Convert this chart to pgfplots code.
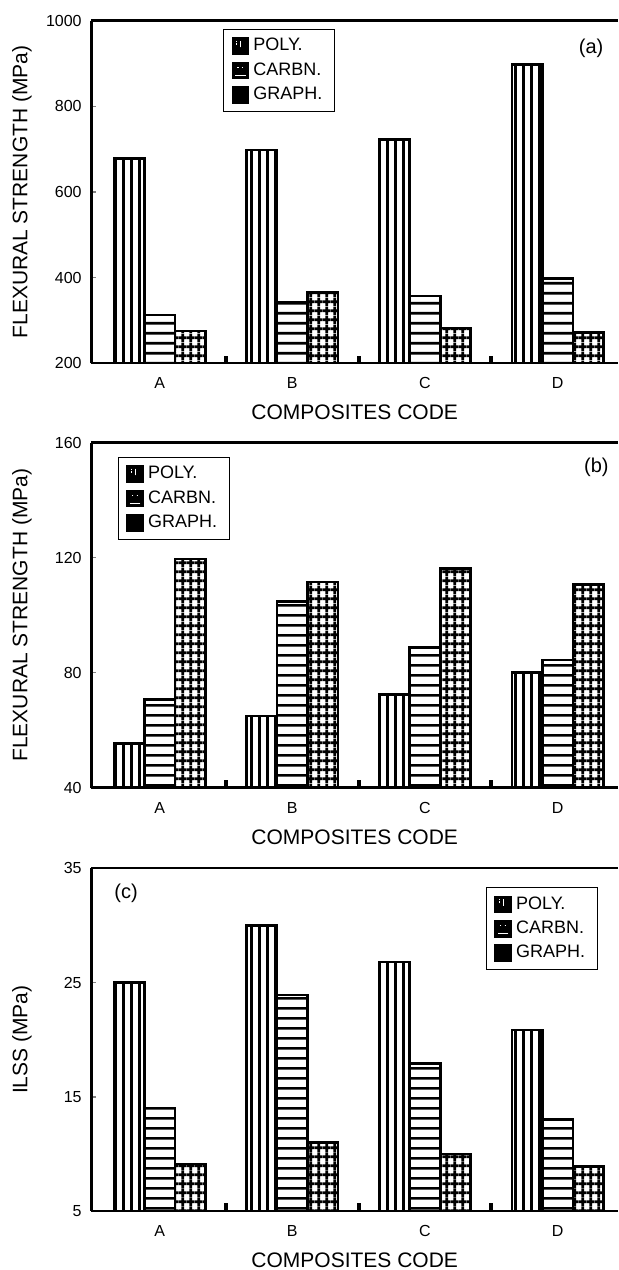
\documentclass[border=0pt]{standalone}
\usepackage{fontspec}
\setmainfont{Liberation Sans}
\usepackage{pgfplots}
\pgfplotsset{compat=1.18}
\usetikzlibrary{patterns.meta}

% fills for the bars: vertical lines, horizontal lines, grid
\pgfdeclarepattern{
  name=vlines,
  type=uncolored,
  bottom left={\pgfpoint{0pt}{0pt}},
  top right={\pgfpoint{4pt}{40pt}},
  tile size={\pgfpoint{4pt}{40pt}},
  code={
    \pgfsetlinewidth{1.5pt}
    \pgfpathmoveto{\pgfpoint{2pt}{-1pt}}\pgfpathlineto{\pgfpoint{2pt}{41pt}}
    \pgfusepath{stroke}
  }
}
\pgfdeclarepattern{
  name=hlines,
  type=uncolored,
  bottom left={\pgfpoint{0pt}{0pt}},
  top right={\pgfpoint{40pt}{4.8pt}},
  tile size={\pgfpoint{40pt}{4.8pt}},
  code={
    \pgfsetlinewidth{1.4pt}
    \pgfpathmoveto{\pgfpoint{-1pt}{2.4pt}}\pgfpathlineto{\pgfpoint{41pt}{2.4pt}}
    \pgfusepath{stroke}
  }
}
\pgfdeclarepattern{
  name=gridbars,
  type=uncolored,
  bottom left={\pgfpoint{0pt}{0pt}},
  top right={\pgfpoint{3.9pt}{4.6pt}},
  tile size={\pgfpoint{3.9pt}{4.6pt}},
  code={
    \pgfsetlinewidth{1.4pt}
    \pgfpathmoveto{\pgfpoint{1.95pt}{0pt}}\pgfpathlineto{\pgfpoint{1.95pt}{4.6pt}}
    \pgfpathmoveto{\pgfpoint{0pt}{2.3pt}}\pgfpathlineto{\pgfpoint{3.9pt}{2.3pt}}
    \pgfusepath{stroke}
  }
}

\pgfplotsset{
  panel/.style={
    scale only axis,
    width=263.3pt,
    anchor=north west,
    xmin=-0.514, xmax=3.455,
    axis x line=box, axis y line=left,
    axis line style={line width=1.2pt,-},
    ybar=0pt, bar width=0.23,
    /pgf/number format/assume math mode=true,
    /pgf/number format/1000 sep={},
    xtick={0,1,2,3}, xticklabels={A,B,C,D},
    xtick style={draw=none},
    xtick pos=left, ytick pos=left,
    extra x ticks={0.5,1.5,2.5},
    extra x tick labels={},
    extra x tick style={xtick style={draw=black,line width=2pt}, major tick length=3.8pt},
    tick align=inside,
    major tick length=2.5pt,
    ytick style={line width=0.8pt},
    ticklabel style={font=\fontsize{8}{10}\selectfont},
    yticklabel style={inner sep=0pt, anchor=east, xshift=-4.7pt},
    xticklabel style={anchor=center, yshift=-9.9pt},
    xlabel={COMPOSITES CODE},
    every axis x label/.style={at={(axis description cs:0.5,0)}, anchor=center,
      yshift=-24.6pt, font=\fontsize{10.5}{12}\selectfont},
    every axis y label/.style={at={([xshift=-34.7pt]axis description cs:0,0.5)},
      rotate=90, anchor=center, font=\fontsize{10.5}{12}\selectfont},
    legend style={draw=black, line width=0.5pt,
      font=\fontsize{9}{10.5}\selectfont, inner xsep=4pt, inner ysep=2.5pt,
      row sep=0.4pt, cells={anchor=west}},
  },
  poly/.style={draw=black, line width=1.3pt, pattern=vlines,
    legend image code/.code={
      \fill[black] (0pt,-3.8pt) rectangle (7.6pt,3.8pt);
      \draw[white, line width=0.6pt] (1.8pt,0.6pt)--(1.8pt,1.7pt) (1.8pt,2.3pt)--(1.8pt,2.7pt)
        (3.8pt,-0.6pt)--(3.8pt,2.7pt);}},
  carbn/.style={draw=black, line width=1.3pt, pattern=hlines,
    legend image code/.code={
      \fill[black] (0pt,-3.8pt) rectangle (7.6pt,3.8pt);
      \draw[white, line width=0.6pt] (2.3pt,1.5pt)--(2.9pt,1.5pt) (4.5pt,1.5pt)--(5.1pt,1.5pt)
        (1.2pt,-2.4pt)--(6.4pt,-2.4pt);}},
  graph/.style={draw=black, line width=1.3pt, pattern=gridbars,
    legend image code/.code={
      \fill[black] (0pt,-3.8pt) rectangle (7.6pt,3.8pt);}},
}

\begin{document}
\begin{tikzpicture}
\useasboundingbox (0,0) rectangle (309pt,635pt);

% (a) flexural strength
\begin{axis}[panel, at={(45.7pt,624.65pt)}, height=171.3pt,
    ymin=200, ymax=1000, ytick={200,400,600,800,1000},
    ylabel={FLEXURAL STRENGTH (MPa)},
    legend style={at={(0.25,0.976)}, anchor=north west}]
  \addplot[poly] coordinates {(0,678) (1,698) (2,723) (3,898)};
  \addlegendentry{POLY.}
  \addplot[carbn] coordinates {(0,313) (1,342) (2,357) (3,398)};
  \addlegendentry{CARBN.}
  \addplot[graph] coordinates {(0,275) (1,365) (2,282) (3,272)};
  \addlegendentry{GRAPH.}
  \node[font=\fontsize{10}{12}\selectfont] at (axis description cs:0.949,0.92) {(a)};
\end{axis}

% (b) flexural strength
\begin{axis}[panel, at={(45.7pt,413.65pt)}, height=172.5pt,
    ymin=40, ymax=160, ytick={40,80,120,160},
    ylabel={FLEXURAL STRENGTH (MPa)},
    legend style={at={(0.05,0.959)}, anchor=north west}]
  \addplot[poly] coordinates {(0,55.4) (1,65) (2,72.5) (3,80)};
  \addlegendentry{POLY.}
  \addplot[carbn] coordinates {(0,70.6) (1,104.7) (2,88.7) (3,84.4)};
  \addlegendentry{CARBN.}
  \addplot[graph] coordinates {(0,119.5) (1,111.5) (2,116.2) (3,110.7)};
  \addlegendentry{GRAPH.}
  \node[font=\fontsize{10}{12}\selectfont] at (axis description cs:0.959,0.93) {(b)};
\end{axis}

% (c) ILSS
\begin{axis}[panel, at={(45.7pt,200.85pt)}, height=171.35pt,
    ymin=5, ymax=35, ytick={5,15,25,35},
    ylabel={ILSS (MPa)},
    legend style={at={(0.749,0.945)}, anchor=north west}]
  \addplot[poly] coordinates {(0,25) (1,30) (2,26.8) (3,20.85)};
  \addlegendentry{POLY.}
  \addplot[carbn] coordinates {(0,14) (1,23.9) (2,17.9) (3,13)};
  \addlegendentry{CARBN.}
  \addplot[graph] coordinates {(0,9.1) (1,11) (2,10) (3,8.9)};
  \addlegendentry{GRAPH.}
  \node[font=\fontsize{10}{12}\selectfont] at (axis description cs:0.066,0.928) {(c)};
\end{axis}
\end{tikzpicture}
\end{document}
